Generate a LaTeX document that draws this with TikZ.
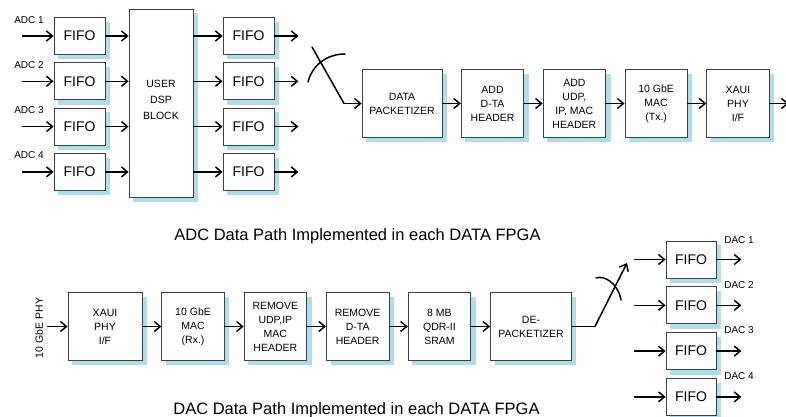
\documentclass[tikz,border=0pt]{standalone}
\usepackage{fontspec}
\setmainfont{Liberation Sans}
\usepackage{tikz}
\usetikzlibrary{arrows.meta, positioning, graphs, backgrounds}
\definecolor{shadowblue}{RGB}{176,220,236}
\tikzset{
node distance=18.5pt,
>={Straight Barb[length=6pt,width=10pt]},
graphs/every graph/.style={edges={line width=1.5pt, line cap=round}},
box/.style={%
    rectangle,
    draw=black!75,
    line width=0.8pt,
    fill=white,
    align=center,
    inner sep=1pt,
    % Font
    font=\fontsize{10.5}{14}\selectfont
},
fifo/.style={%
    box, minimum width=51pt, minimum height=37pt, font=\fontsize{14}{16}\selectfont
},
stage/.style={%
    box, minimum width=62.5pt, minimum height=67.5pt
},
lbl/.style={inner sep=0pt, font=\fontsize{10}{12}\selectfont},
caption/.style={inner sep=0pt, font=\fontsize{16.5}{18}\selectfont},
bus/.style={line width=1.5pt, line cap=round},
}

\begin{document}
\begin{tikzpicture}[x=1pt,y=-1pt]
\useasboundingbox (0,0) rectangle (786,417);

% ADC side
\node[fifo] (fifoA1) at (79.5,36) {FIFO};
\node[fifo, below=7.5pt of fifoA1] (fifoA2) {FIFO};
\node[fifo, below=7.5pt of fifoA2] (fifoA3) {FIFO};
\node[fifo, below=7.5pt of fifoA3] (fifoA4) {FIFO};
\node[box, minimum width=64pt, minimum height=188pt] (dsp) at (161,103) {USER\\[2pt]DSP\\[2pt]BLOCK\\[-8pt]\mbox{}};
\node[fifo] (fifoB1) at (248.5,36) {FIFO};
\node[fifo, below=7.5pt of fifoB1] (fifoB2) {FIFO};
\node[fifo, below=7.5pt of fifoB2] (fifoB3) {FIFO};
\node[fifo, below=7.5pt of fifoB3] (fifoB4) {FIFO};

\node[lbl] (adc1) at (29,20) {ADC 1};
\node[lbl] (adc2) at (29,65) {ADC 2};
\node[lbl] (adc3) at (29,110) {ADC 3};
\node[lbl] (adc4) at (29,155) {ADC 4};

\coordinate[left=31pt of fifoA1] (in1);
\coordinate[left=31pt of fifoA2] (in2);
\coordinate[left=31pt of fifoA3] (in3);
\coordinate[left=31pt of fifoA4] (in4);
\coordinate (dspin1) at (dsp.west |- fifoA1);
\coordinate (dspin2) at (dsp.west |- fifoA2);
\coordinate (dspin3) at (dsp.west |- fifoA3);
\coordinate (dspin4) at (dsp.west |- fifoA4);
\coordinate (dspout1) at (dsp.east |- fifoB1);
\coordinate (dspout2) at (dsp.east |- fifoB2);
\coordinate (dspout3) at (dsp.east |- fifoB3);
\coordinate (dspout4) at (dsp.east |- fifoB4);
\coordinate[right=24pt of fifoB1] (out1);
\coordinate[right=24pt of fifoB2] (out2);
\coordinate[right=24pt of fifoB3] (out3);
\coordinate[right=24pt of fifoB4] (out4);

\node[stage, minimum width=80pt] (pkt) at (402,103.5) {DATA\\PACKETIZER};
\node[stage, right=of pkt] (addhdr) {ADD\\D-TA\\HEADER};
\node[stage, right=of addhdr] (addudp) {ADD\\UDP,\\IP, MAC\\HEADER};
\node[stage, right=of addudp] (txmac) {10 GbE\\MAC\\(Tx.)};
\node[stage, right=of txmac] (txphy) {XAUI\\PHY\\I/F};
\coordinate[right=19pt of txphy] (txout);
\coordinate (adcbus) at (312,47);
\coordinate (adcbend) at (344,103.5);

\node[caption, anchor=base] (adccap) at (357.5,240) {ADC Data Path Implemented in each DATA FPGA};

% DAC side
\node[lbl, rotate=90, font=\fontsize{10.5}{12}\selectfont] (phylbl) at (39,328) {10 GbE PHY};
\node[stage, minimum width=74pt] (rxphy) at (105,326.5) {XAUI\\PHY\\I/F};
\node[stage, right=19pt of rxphy] (rxmac) {10 GbE\\MAC\\(Rx.)};
\node[stage, right=19pt of rxmac] (rmudp) {REMOVE\\UDP,IP\\MAC\\HEADER};
\node[stage, right=19pt of rmudp] (rmhdr) {REMOVE\\D-TA\\HEADER};
\node[stage, right=of rmhdr] (sram) {8 MB\\QDR-II\\SRAM};
\node[stage, minimum width=81pt, right=19pt of sram] (depkt) {DE-\\PACKETIZER};
\coordinate[left=20pt of rxphy] (rxin);
\coordinate[right=23pt of depkt] (dacbend);
\coordinate (dacbus) at (627,263);

\node[fifo, minimum width=50pt] (fifoC1) at (691,259.5) {FIFO};
\node[fifo, minimum width=50pt, below=8pt of fifoC1] (fifoC2) {FIFO};
\node[fifo, minimum width=50pt, below=8pt of fifoC2] (fifoC3) {FIFO};
\node[fifo, minimum width=50pt, below=8pt of fifoC3] (fifoC4) {FIFO};

\node[lbl] (dac1) at (739,240.5) {DAC 1};
\node[lbl] (dac2) at (739,285.5) {DAC 2};
\node[lbl] (dac3) at (739,330.5) {DAC 3};
\node[lbl] (dac4) at (739,376) {DAC 4};

\coordinate[left=31pt of fifoC1] (dacin1);
\coordinate[left=31pt of fifoC2] (dacin2);
\coordinate[left=31pt of fifoC3] (dacin3);
\coordinate[left=31pt of fifoC4] (dacin4);
\coordinate[right=25pt of fifoC1] (dacout1);
\coordinate[right=25pt of fifoC2] (dacout2);
\coordinate[right=25pt of fifoC3] (dacout3);
\coordinate[right=25pt of fifoC4] (dacout4);

\node[caption, anchor=base] (daccap) at (356.5,414) {DAC Data Path Implemented in each DATA FPGA};

% light blue shadows behind the boxes
\begin{scope}[on background layer]
\foreach \b in {fifoA1,fifoA2,fifoA3,fifoA4,dsp,fifoB1,fifoB2,fifoB3,fifoB4,
                pkt,addhdr,addudp,txmac,txphy,
                rxphy,rxmac,rmudp,rmhdr,sram,depkt,
                fifoC1,fifoC2,fifoC3,fifoC4}
    \fill[shadowblue] ([shift={(4.5pt,-4.5pt)}]\b.south west) rectangle ([shift={(4.5pt,-4.5pt)}]\b.north east);
\end{scope}

\graph [use existing nodes] {
    in1 -> fifoA1 -> dspin1;
    in2 -> fifoA2 -> dspin2;
    in3 -> fifoA3 -> dspin3;
    in4 -> fifoA4 -> dspin4;
    dspout1 -> fifoB1 -> out1;
    dspout2 -> fifoB2 -> out2;
    dspout3 -> fifoB3 -> out3;
    dspout4 -> fifoB4 -> out4;
    adcbus -- adcbend -> pkt -> addhdr -> addudp -> txmac -> txphy -> txout;
    rxin -> rxphy -> rxmac -> rmudp -> rmhdr -> sram -> depkt -- dacbend -> dacbus;
    dacin1 -> fifoC1 -> dacout1;
    dacin2 -> fifoC2 -> dacout2;
    dacin3 -> fifoC3 -> dacout3;
    dacin4 -> fifoC4 -> dacout4;
};

% bus crossing marks
\draw[bus] (308,82) .. controls (312,66) and (326,54) .. (345,54);
\draw[bus] (596,278) .. controls (604,275) and (618,283) .. (621,300);
\end{tikzpicture}
\end{document}
